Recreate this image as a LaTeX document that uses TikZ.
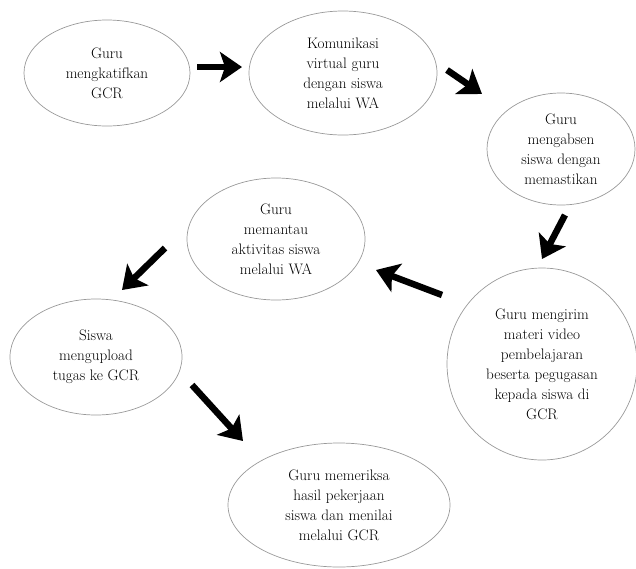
\documentclass[tikz,border=0pt]{standalone}
\usetikzlibrary{shapes.geometric,arrows.meta}
\begin{document}
\begin{tikzpicture}[x=1pt,y=-1pt,
  stepell/.style={ellipse, draw=black!40, line width=0.7pt, inner sep=0pt,
    align=center, font=\fontsize{15.2}{20}\selectfont},
  bigarrow/.style={line width=6.5pt, -{Stealth[length=22pt,width=30pt,inset=5pt]}}]
\useasboundingbox (0,0) rectangle (636,568);
\node[stepell, minimum width=166pt, minimum height=106pt] (e1) at (107,73) {Guru\\mengkatifkan\\GCR};
\node[stepell, minimum width=188pt, minimum height=124pt] (e2) at (343,73) {Komunikasi\\virtual guru\\dengan siswa\\melalui WA};
\node[stepell, minimum width=148pt, minimum height=112pt] (e3) at (561,149) {Guru\\mengabsen\\siswa dengan\\memastikan};
\node[stepell, minimum width=178pt, minimum height=122pt] (e4) at (276,239) {Guru\\memantau\\aktivitas siswa\\melalui WA};
\node[stepell, minimum width=172pt, minimum height=116pt] (e5) at (96,357) {Siswa\\mengupload\\tugas ke GCR};
\node[stepell, minimum width=190pt, minimum height=192pt] (e6) at (542,364) {Guru mengirim\\materi video\\pembelajaran\\beserta pegugasan\\kepada siswa di\\GCR};
\node[stepell, minimum width=222pt, minimum height=124pt] (e7) at (339,505) {Guru memeriksa\\hasil pekerjaan\\siswa dan menilai\\melalui GCR};
\coordinate (a1s) at (197,67); \coordinate (a1e) at (242,67);
\coordinate (a2s) at (447,70); \coordinate (a2e) at (482,94);
\coordinate (a3s) at (565,215); \coordinate (a3e) at (542,259);
\coordinate (a4s) at (442,295); \coordinate (a4e) at (376,270);
\coordinate (a5s) at (165,248); \coordinate (a5e) at (122,290);
\coordinate (a6s) at (192,385); \coordinate (a6e) at (243,441);
\draw[bigarrow] (a1s) -- (a1e);
\draw[bigarrow] (a2s) -- (a2e);
\draw[bigarrow] (a3s) -- (a3e);
\draw[bigarrow] (a4s) -- (a4e);
\draw[bigarrow] (a5s) -- (a5e);
\draw[bigarrow] (a6s) -- (a6e);
\end{tikzpicture}
\end{document}
